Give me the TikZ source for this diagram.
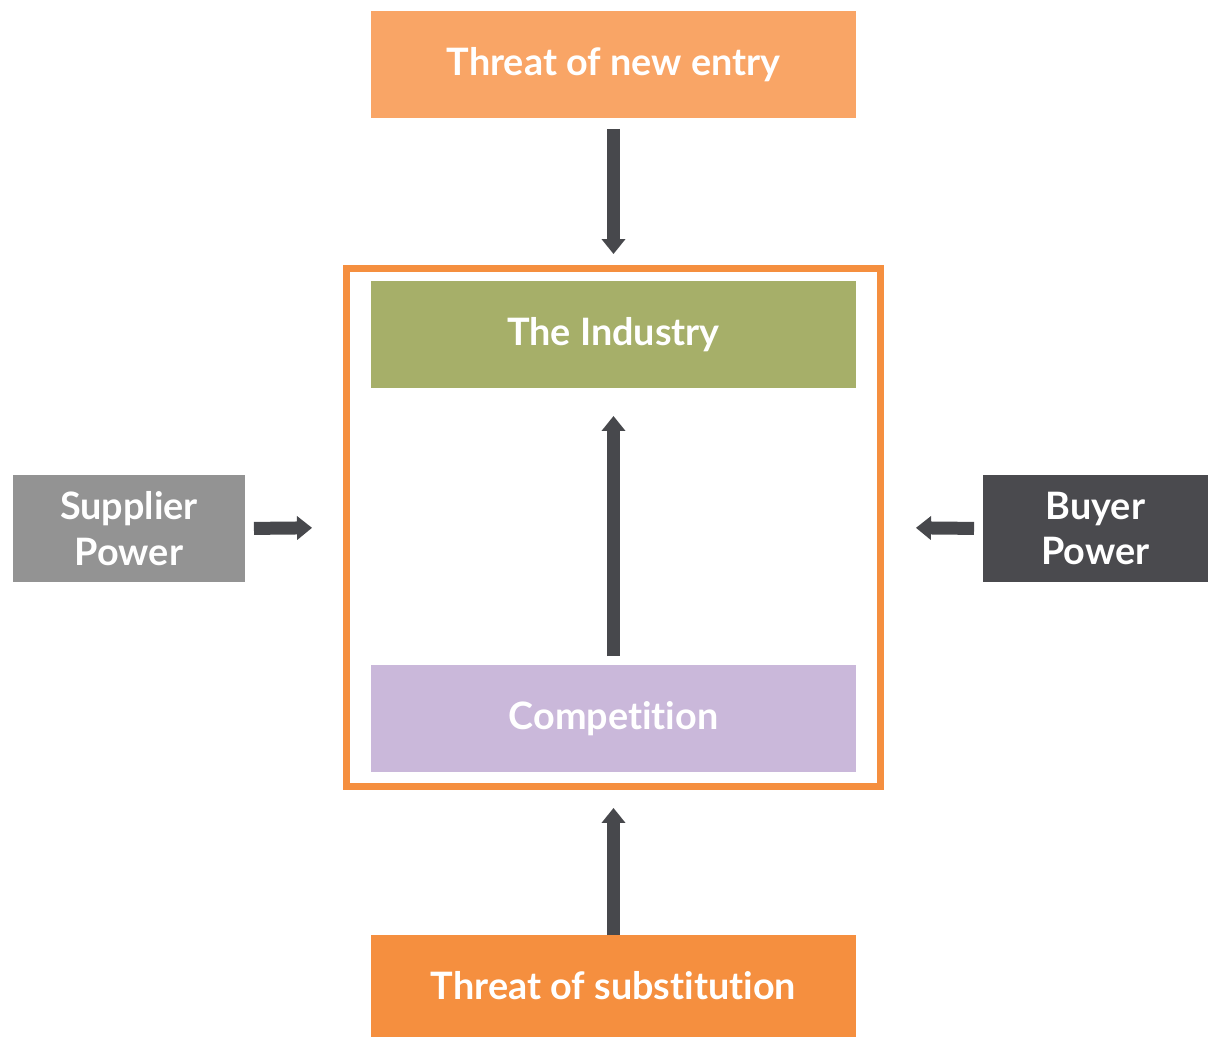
\documentclass[tikz,border=0pt]{standalone}
\usepackage{fontspec}
\setmainfont[Ligatures=NoCommon]{Lato}
\usetikzlibrary{arrows.meta}
\definecolor{entrycol}{HTML}{F9A566}
\definecolor{industrycol}{HTML}{A6AF69}
\definecolor{competitioncol}{HTML}{CAB8DA}
\definecolor{substcol}{HTML}{F58F3F}
\definecolor{suppliercol}{HTML}{939393}
\definecolor{buyercol}{HTML}{4A4A4E}
\definecolor{arrowcol}{HTML}{47484C}
\tikzset{
  forcebox/.style={inner sep=0pt, outer sep=0pt, minimum height=2.14cm, text=white,
    font=\fontsize{21.5}{26}\selectfont\bfseries, align=center},
  widebox/.style={forcebox, minimum width=9.7cm},
  forcearrow/.style={draw=arrowcol, line width=0.26cm,
    -{Triangle[width=0.46cm,length=0.3cm]}}
}
\begin{document}
\begin{tikzpicture}[x=0.02cm,y=-0.02cm]
  \useasboundingbox (0,0) rectangle (1208,1037);
  \node [draw=substcol, line width=0.14cm, inner sep=0pt, outer sep=0pt,
    minimum width=10.7cm, minimum height=10.38cm] (market) at (613.5,527.5) {};
  \node [widebox, fill=entrycol] (entry) at (613.5,64.5) {Threat of new entry};
  \node [widebox, fill=industrycol] (industry) at (613.5,334.5) {The Industry};
  \node [widebox, fill=competitioncol] (competition) at (613.5,718.5) {Competition};
  \node [widebox, fill=substcol, minimum height=2.04cm] (subst) at (613.5,986) {Threat of substitution};
  \node [forcebox, fill=suppliercol, minimum width=4.64cm] (supplier) at (129,528.5) {Supplier\\Power};
  \node [forcebox, fill=buyercol, minimum width=4.5cm] (buyer) at (1095.5,528.5) {Buyer\\Power};
  \draw [forcearrow, shorten <=0.22cm, shorten >=0.28cm] (entry.south) -- (market.north);
  \draw [forcearrow, shorten <=0.18cm, shorten >=0.56cm] (competition.north) -- (industry.south);
  \draw [forcearrow, shorten >=0.42cm] (subst.north) -- (market.south);
  \draw [forcearrow, shorten <=0.18cm, shorten >=0.68cm] (supplier.east) -- (market.west);
  \draw [forcearrow, shorten <=0.18cm, shorten >=0.7cm] (buyer.west) -- (market.east);
\end{tikzpicture}
\end{document}
